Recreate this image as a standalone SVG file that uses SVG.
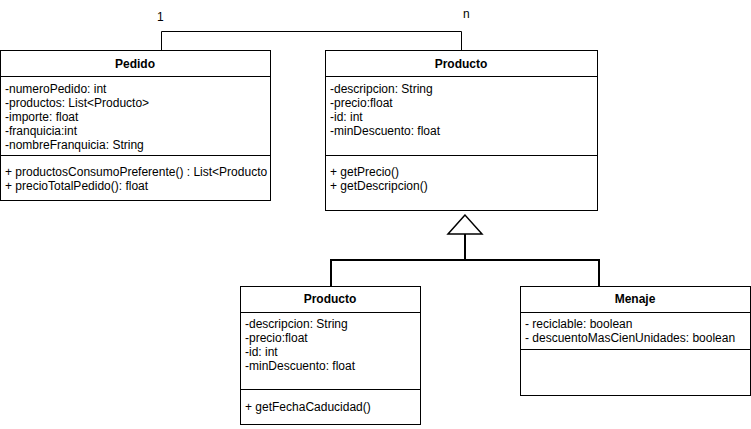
<svg xmlns="http://www.w3.org/2000/svg" width="751" height="429" viewBox="0 0 751 429">
<style>
.box{fill:#fff;stroke:#000;stroke-width:1}
.t{font-family:"Liberation Sans",Arial,sans-serif;font-size:12px;fill:#000}
.h{font-family:"Liberation Sans",Arial,sans-serif;font-size:12px;font-weight:bold;fill:#000;text-anchor:middle}
.ln{stroke:#000;stroke-width:1;fill:none}
.gl{stroke:#000;stroke-width:2;fill:none}
</style>
<rect width="751" height="429" fill="#fff"/>
<g id="connectors">
<polyline class="ln" points="161.5,50 161.5,31.5 461.5,31.5 461.5,50"/>
<text class="t" x="157" y="21">1</text>
<text class="t" x="463" y="18">n</text>
<polyline class="gl" points="465,234 465,260"/>
<polyline class="gl" points="331,286 331,260 599,260 599,286"/>
<polygon points="465,215 448,234 482,234" fill="#fff" stroke="#000" stroke-width="1.5"/>
</g>
<g id="pedido">
<rect class="box" x="0.5" y="50.5" width="270" height="150"/>
<line class="ln" x1="0.5" y1="76.5" x2="270.5" y2="76.5"/>
<line class="ln" x1="0.5" y1="155.5" x2="270.5" y2="155.5"/>
<text class="h" x="135" y="68">Pedido</text>
<text class="t" x="5" y="93">-numeroPedido: int</text>
<text class="t" x="5" y="107">-productos: List&lt;Producto&gt;</text>
<text class="t" x="5" y="121">-importe: float</text>
<text class="t" x="5" y="135">-franquicia:int</text>
<text class="t" x="5" y="149">-nombreFranquicia: String</text>
<text class="t" x="5" y="176">+ productosConsumoPreferente() : List&lt;Producto</text>
<text class="t" x="5" y="190">+ precioTotalPedido(): float</text>
</g>
<g id="producto">
<rect class="box" x="325.5" y="50.5" width="272" height="160"/>
<line class="ln" x1="325.5" y1="76.5" x2="597.5" y2="76.5"/>
<line class="ln" x1="325.5" y1="155.5" x2="597.5" y2="155.5"/>
<text class="h" x="461" y="68">Producto</text>
<text class="t" x="330" y="93">-descripcion: String</text>
<text class="t" x="330" y="107">-precio:float</text>
<text class="t" x="330" y="121">-id: int</text>
<text class="t" x="330" y="135">-minDescuento: float</text>
<text class="t" x="330" y="176">+ getPrecio()</text>
<text class="t" x="330" y="190">+ getDescripcion()</text>
</g>
<g id="producto2">
<rect class="box" x="240.5" y="286.5" width="180" height="138"/>
<line class="ln" x1="240.5" y1="312.5" x2="420.5" y2="312.5"/>
<line class="ln" x1="240.5" y1="389.5" x2="420.5" y2="389.5"/>
<text class="h" x="330" y="303">Producto</text>
<text class="t" x="245" y="328">-descripcion: String</text>
<text class="t" x="245" y="342">-precio:float</text>
<text class="t" x="245" y="356">-id: int</text>
<text class="t" x="245" y="370">-minDescuento: float</text>
<text class="t" x="245" y="411">+ getFechaCaducidad()</text>
</g>
<g id="menaje">
<rect class="box" x="520.5" y="286.5" width="230" height="109"/>
<line class="ln" x1="520.5" y1="312.5" x2="750.5" y2="312.5"/>
<line class="ln" x1="520.5" y1="349.5" x2="750.5" y2="349.5"/>
<text class="h" x="635" y="303">Menaje</text>
<text class="t" x="525" y="328">- reciclable: boolean</text>
<text class="t" x="525" y="342">- descuentoMasCienUnidades: boolean</text>
</g>
</svg>
